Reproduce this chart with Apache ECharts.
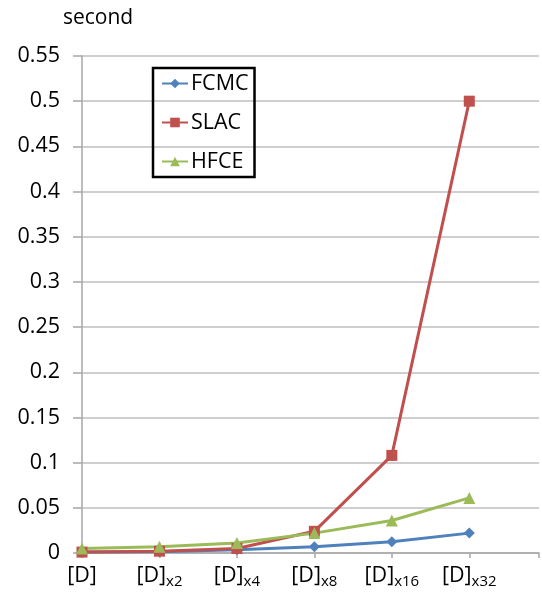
<!DOCTYPE html>
<html>
<head>
<meta charset="utf-8">
<script src="https://cdn.jsdelivr.net/npm/echarts@6/dist/echarts.min.js"></script>
<style>html,body{margin:0;padding:0;background:#fff;}#c{width:542px;height:592px;}</style>
</head>
<body>
<div id="c"></div>
<script>
const categories = ['[D]', '[D]x2', '[D]x4', '[D]x8', '[D]x16', '[D]x32'];
const subscripts = ['', 'x2', 'x4', 'x8', 'x16', 'x32'];
const fcmc = [0.001, 0.0015, 0.0035, 0.007, 0.0125, 0.022];
const slac = [0.001, 0.002, 0.005, 0.024, 0.108, 0.5];
const hfce = [0.005, 0.007, 0.011, 0.022, 0.036, 0.061];
const yTicks = [0, 0.05, 0.1, 0.15, 0.2, 0.25, 0.3, 0.35, 0.4, 0.45, 0.5, 0.55];

const FONT = 'Open Sans';
const toPts = arr => arr.map((v, i) => [i, v]);

const chart = echarts.init(document.getElementById('c'));
chart.setOption({
  animation: false,
  textStyle: { fontFamily: FONT },
  title: {
    text: 'second', left: 58, top: 3,
    textStyle: { fontFamily: FONT, fontSize: 21, fontWeight: 'normal', color: '#000' }
  },
  grid: { left: 82, right: 0, top: 56, bottom: 39 },
  legend: {
    orient: 'vertical', left: 153, top: 68,
    borderColor: '#000', borderWidth: 2.5,
    padding: [3, 6, 3, 8],
    itemWidth: 26, itemHeight: 12, itemGap: 14,
    textStyle: { fontFamily: FONT, fontSize: 21.5, color: '#000', lineHeight: 25, padding: [0, 0, 0, -2] },
    data: ['FCMC', 'SLAC', 'HFCE']
  },
  xAxis: {
    type: 'value', min: 0, max: 5.9, interval: 1,
    splitLine: { show: false },
    axisLine: { lineStyle: { color: '#A6A6A6', width: 1.5 } },
    axisTick: { length: 5, lineStyle: { color: '#A6A6A6', width: 1.5 } },
    axisLabel: {
      margin: 10,
      formatter: v => {
        const i = Math.round(v);
        if (i < 0 || i >= categories.length) return '';
        return subscripts[i] ? '{m|[D]}{s|' + subscripts[i] + '}' : '{m|[D]}';
      },
      rich: {
        m: { fontFamily: FONT, fontSize: 21.5, color: '#000', lineHeight: 26 },
        s: { fontFamily: FONT, fontSize: 15, color: '#000', lineHeight: 16, verticalAlign: 'bottom' }
      }
    }
  },
  yAxis: {
    type: 'value', min: 0, max: 0.55, interval: 0.05,
    axisLine: { show: true, lineStyle: { color: '#A6A6A6', width: 1.5 } },
    axisTick: { show: true, length: 9, lineStyle: { color: '#A6A6A6', width: 1.5 } },
    splitLine: { lineStyle: { color: '#BFBFBF', width: 1.5 } },
    axisLabel: {
      margin: 22, color: '#000', fontFamily: FONT, fontSize: 21.5,
      formatter: v => {
        const i = Math.round(v / 0.05);
        return String(yTicks[i]);
      }
    }
  },
  series: [
    { name: 'FCMC', type: 'line', data: toPts(fcmc), symbol: 'diamond', symbolSize: 11,
      lineStyle: { color: '#4F81BD', width: 3 }, itemStyle: { color: '#4F81BD' } },
    { name: 'SLAC', type: 'line', data: toPts(slac), symbol: 'rect', symbolSize: 11,
      lineStyle: { color: '#C0504D', width: 3 }, itemStyle: { color: '#C0504D' } },
    { name: 'HFCE', type: 'line', data: toPts(hfce), symbol: 'triangle', symbolSize: 12,
      lineStyle: { color: '#9BBB59', width: 3 }, itemStyle: { color: '#9BBB59' } }
  ]
});
</script>
</body>
</html>
